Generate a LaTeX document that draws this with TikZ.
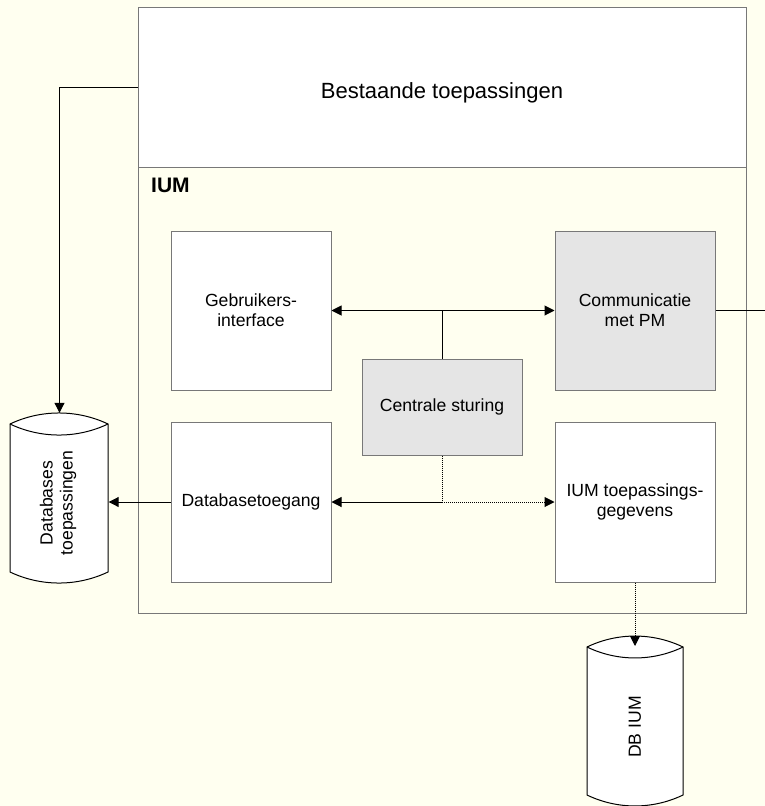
\documentclass[tikz,border=0pt]{standalone}
\usepackage{fontspec}
\setmainfont{Liberation Sans}
\usetikzlibrary{arrows.meta}
\definecolor{bgyellow}{RGB}{255,255,240}
\definecolor{boxgray}{RGB}{229,229,229}
\definecolor{edgegray}{RGB}{120,120,120}
\tikzset{
  box/.style={draw=edgegray, line width=1pt, fill=white, minimum width=160pt, minimum height=159pt, inner sep=0pt, align=center, font=\fontsize{17.6}{20}\selectfont},
  graybox/.style={box, fill=boxgray},
  frame/.style={draw=edgegray, line width=1pt, minimum width=608pt, inner sep=0pt},
  conn/.style={draw=black, line width=1pt},
  arr/.style={conn, -{Triangle[length=10pt, width=10pt]}},
  dotline/.style={dash pattern=on 1pt off 1pt},
  cylshape/.style={draw=black, line width=1pt, fill=white},
  cylnode/.style={inner sep=0pt, align=center, rotate=90, font=\fontsize{17.6}{20}\selectfont}
}
\begin{document}
\begin{tikzpicture}[x=1pt, y=-1pt]
\fill[bgyellow] (0,0) rectangle (765,806);
\useasboundingbox (0,0) rectangle (765,806);

% containers
\node[frame, fill=white, minimum height=160pt, text height=22pt, text depth=0pt, font=\fontsize{22}{26}\selectfont] (best) at (442,87) {Bestaande toepassingen};
\node[frame, fill=bgyellow, minimum height=446pt] (ium) at (442,390) {};
\node[anchor=base west, inner sep=0pt, font=\fontsize{21}{24}\selectfont\bfseries] (iumlabel) at (151,192) {IUM};

% inner boxes
\node[box] (gi) at (251,310.5) {Gebruikers-\\interface};
\node[graybox] (cm) at (635,310.5) {Communicatie\\met PM};
\node[graybox, minimum height=96pt] (cs) at (442,407) {Centrale sturing};
\node[box, minimum height=160pt] (dt) at (251,502) {Databasetoegang};
\node[box, minimum height=160pt] (it) at (635,502) {IUM toepassings-\\gegevens};

% cylinder left
\path[cylshape] (10,424) .. controls (41,409.3) and (77,409.3) .. (108,424)
  -- (108,572) .. controls (77,586.7) and (41,586.7) .. (10,572) -- cycle;
\draw[line width=1pt] (10,424) .. controls (41,438.7) and (77,438.7) .. (108,424);
\node[inner sep=0pt, minimum width=98pt, minimum height=170pt] (db1) at (59.5,498) {};
\node[cylnode] (db1text) at (58,503) {Databases\\toepassingen};

% cylinder DB IUM
\path[cylshape] (587,647) .. controls (617.3,632.4) and (652.7,632.4) .. (683,647)
  -- (683,795) .. controls (652.7,809.6) and (617.3,809.6) .. (587,795) -- cycle;
\draw[line width=1pt] (587,647) .. controls (617.3,661.6) and (652.7,661.6) .. (683,647);
\node[cylnode] (dbiumtext) at (635,727) {DB IUM};
\coordinate (dbiumtip) at (635,646);

% connectors
\coordinate (j1) at (cs.north |- gi.east);
\coordinate (j2) at (cs.south |- dt.east);
\coordinate (cmout) at (765,310.5);
\draw[conn] (cs.north) -- (j1);
\draw[arr] (j1) -- (gi.east);
\draw[arr] (j1) -- (cm.west);
\draw[conn, dotline] (cs.south) -- (j2);
\draw[arr] (j2) -- (dt.east);
\draw[arr, dotline] (j2) -- (it.west);
\draw[arr] (dt.west) -- (dt.west -| db1.east);
\draw[conn] (cm.east) -- (cmout);
\draw[arr] (best.west) -| (db1.north);
\draw[arr, dotline] (it.south) -- (dbiumtip);
\end{tikzpicture}
\end{document}
